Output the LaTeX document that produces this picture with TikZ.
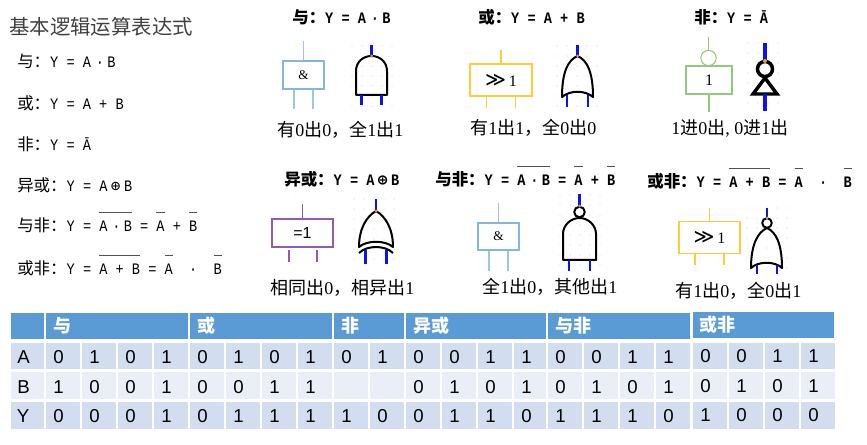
\documentclass[tikz,border=0pt]{standalone}
\usepackage{fontspec}
\setmainfont{Liberation Serif}
\setsansfont{Liberation Sans}
\setmonofont[FakeStretch=0.85]{Liberation Mono}
\newfontfamily\cjk{Noto Sans CJK SC}
\newfontfamily\cjkbig[Scale=1.03]{Noto Sans CJK SC}
\newfontfamily\dvmono{DejaVu Sans Mono}
\newfontfamily\dvsans{DejaVu Sans}
\newcommand{\zh}[1]{{\cjkbig #1}}
\newcommand{\zc}[1]{{\cjk #1}}
\newcommand{\xorsign}{\makebox[12.4pt]{\dvmono ⊕}}
\newcommand{\orsign}{{\dvsans\fontsize{15}{16}\selectfont ≫}\,}
\newcommand{\middot}{\kern-2.4pt·\kern2.4pt}
\newsavebox\barbox
\newcommand{\topbar}[1]{\sbox\barbox{#1}\rlap{\textcolor{barcol}{\rule[14.3pt]{\wd\barbox}{.8pt}}}\usebox\barbox}
\newcommand{\dotgrid}[4]{\foreach \i in {0,...,#3}\foreach \j in {0,...,#4}\fill[griddot] (#1+\i*10,#2+\j*10) circle (.45pt);}
\definecolor{barcol}{HTML}{505050}
\definecolor{griddot}{HTML}{D4D4D4}
\definecolor{headblue}{HTML}{5B9BD5}
\definecolor{oddrow}{HTML}{D2DEEF}
\definecolor{evenrow}{HTML}{EAEFF7}
\definecolor{andblue}{HTML}{86B6E0}
\definecolor{oryellow}{HTML}{FFCB3D}
\definecolor{notgreen}{HTML}{95C878}
\definecolor{xorpurple}{HTML}{8E5CB5}
\definecolor{pinblue}{HTML}{0A14F0}
\definecolor{outorange}{HTML}{F0A000}
\tikzset{
formula/.style={anchor=base west,inner sep=0pt,font=\ttfamily\fontsize{12}{14}\selectfont},
heading/.style={anchor=base west,inner sep=0pt,font=\ttfamily\bfseries\fontsize{12}{14}\selectfont},
caption/.style={anchor=base west,inner sep=0pt,font=\fontsize{13.5}{16}\selectfont},
gbox/.style={draw,line width=.9pt,inner sep=0pt,font=\fontsize{12}{14}\selectfont},
boxpin/.style={line width=1pt},
gate/.style={line width=1.5pt,line join=round},
pin/.style={pinblue,line width=1.75pt},
thickgate/.style={line width=2.6pt,line join=miter},
thickpin/.style={pinblue,line width=2.6pt},
headcell/.style={fill=headblue,draw=white,line width=.8pt},
headtext/.style={anchor=west,inner sep=0pt,text=white,font=\cjk\bfseries\fontsize{13.5}{16}\selectfont},
cell/.style={anchor=base west,inner sep=0pt,font=\sffamily\fontsize{14}{16}\selectfont},
rowname/.style={anchor=base,inner sep=0pt,font=\sffamily\fontsize{14}{16}\selectfont},
}
\begin{document}
\begin{tikzpicture}[x=.75pt,y=-.75pt]
\useasboundingbox (0,0) rectangle (867,445);
% left list
\node[anchor=west,inner sep=0pt,text=black!75,font=\cjk\fontsize{15.3}{18}\selectfont] (maintitle) at (9,27) {基本逻辑运算表达式};
\node[formula] (lineand) at (17,68) {\zh{与：}Y = A \middot B};
\node[formula] (lineor) at (17,110) {\zh{或：}Y = A + B};
\node[formula] (linenot) at (17,151) {\zh{非：}Y = Ā};
\node[formula] (linexor) at (17,192) {\zh{异或：}Y = A\xorsign B};
\node[formula] (linenand) at (17,232) {\zh{与非：}Y = \topbar{A \middot B} = \topbar{A} + \topbar{B}};
\node[formula] (linenor) at (17,275) {\zh{或非：}Y = \topbar{A + B} = \topbar{A}~~·~~\topbar{B}};
% and
\node[heading] (headand) at (292,24) {\zh{与：}Y = A \middot B};
\node[gbox,draw=andblue,font=\fontsize{10}{12}\selectfont,minimum width=30.75pt,minimum height=21pt] (andbox) at (303.5,75) {\&};
\draw[andblue!80,boxpin] (andbox.north) -- ++(0,-19);
\draw[andblue!80,boxpin] ([xshift=-7.2pt]andbox.south) -- ++(0,19);
\draw[andblue!80,boxpin] ([xshift=7.2pt]andbox.south) -- ++(0,19);
\dotgrid{352}{46}{4}{6}
\draw[gate] (356,95) -- (356,71) .. controls (356,62) and (363,56) .. (371.5,56) .. controls (380,56) and (387,62) .. (387,71) -- (387,95) -- cycle;
\coordinate (andout) at (371.5,56);
\coordinate (andina) at (361.5,95);
\coordinate (andinb) at (381.5,95);
\draw[pin] (andout) -- ++(0,-11);
\draw[pin] (andina) -- ++(0,10);
\draw[pin] (andinb) -- ++(0,10);
\fill[outorange] (andout) circle (1.5);
\node[caption] (capand) at (277,137) {\zc{有}0\zc{出}0\zc{，}\zc{全}1\zc{出}1};
% or
\node[heading] (heador) at (478,24) {\zh{或：}Y = A + B};
\node[gbox,draw=oryellow,minimum width=46.5pt,minimum height=24pt] (orbox) at (501,80) {\orsign 1};
\draw[oryellow,boxpin] (orbox.north) -- ++(0,-13);
\draw[oryellow,boxpin] ([xshift=-11pt]orbox.south) -- ++(0,11);
\draw[oryellow,boxpin] ([xshift=11pt]orbox.south) -- ++(0,11);
\dotgrid{557}{46}{4}{6}
\draw[gate] (577.5,56) .. controls (568,60) and (562,72) .. (562,97) .. controls (570,90) and (585,90) .. (593,97) .. controls (593,72) and (587,60) .. (577.5,56) -- cycle;
\coordinate (orout) at (577.5,56);
\coordinate (orina) at (567,95);
\coordinate (orinb) at (588,95);
\draw[pin] (orout) -- ++(0,-11);
\draw[pin] (orina) -- ++(0,12);
\draw[pin] (orinb) -- ++(0,12);
\fill[outorange] (orout) circle (1.5);
\node[caption] (capor) at (470,135) {\zc{有}1\zc{出}1\zc{，}\zc{全}0\zc{出}0};
% not
\node[heading] (headnot) at (694,24) {\zh{非：}Y = Ā};
\node[gbox,draw=notgreen,minimum width=34.5pt,minimum height=21pt] (notbox) at (709,80) {1};
\node[circle,draw=notgreen,line width=.8pt,minimum size=11.5pt,inner sep=0pt] (notring) at (708.5,58) {};
\draw[notgreen,boxpin] (notring.north) -- ++(0,-13);
\draw[notgreen,boxpin] (notbox.south) -- ++(0,17);
\dotgrid{748}{43}{3}{6}
\draw[thickgate] (765,69) circle (7.5);
\draw[thickgate] (765,78) -- (777,94) -- (753,94) -- cycle;
\coordinate (notout) at (765,61);
\coordinate (notin) at (765,94);
\draw[thickpin] (notout) -- ++(0,-18);
\draw[thickpin] (notin) -- ++(0,17);
\fill[outorange] (notout) circle (2);
\node[caption] (capnot) at (671,135) {1\zc{进}0\zc{出}, 0\zc{进}1\zc{出}};
% xor
\node[heading] (headxor) at (284,186) {\zh{异或：}Y = A\xorsign B};
\node[gbox,draw=xorpurple,minimum width=45.75pt,minimum height=21pt] (xorbox) at (302.5,233) {\sffamily =1};
\coordinate (xorina) at (289,250);
\coordinate (xorinb) at (317,250);
\draw[xorpurple,boxpin] (xorbox.north) -- ++(0,-14);
\draw[xorpurple,boxpin] (xorina) -- ++(0,12);
\draw[xorpurple,boxpin] (xorinb) -- ++(0,12);
\dotgrid{354}{199}{4}{6}
\draw[gate] (376,211) .. controls (367,216) and (359,228) .. (359,247) .. controls (367,240) and (385,240) .. (393,247) .. controls (393,228) and (385,216) .. (376,211) -- cycle;
\draw[gate] (359,253) .. controls (367,245) and (385,245) .. (393,253);
\coordinate (xorout) at (376,211);
\coordinate (xorgina) at (365.5,250);
\coordinate (xorginb) at (386.5,250);
\draw[pin] (xorout) -- ++(0,-12);
\draw[pin] (xorgina) -- ++(0,14);
\draw[pin] (xorginb) -- ++(0,14);
\fill[outorange] (xorout) circle (1.5);
\node[caption] (capxor) at (270,294) {\zc{相同出}0\zc{，}\zc{相异出}1};
% nand
\node[heading] (headnand) at (435,186) {\zh{与非：}Y = \topbar{A \middot B} = \topbar{A} + \topbar{B}};
\node[gbox,draw=andblue,font=\fontsize{10}{12}\selectfont,minimum width=30.75pt,minimum height=20.25pt] (nandbox) at (498.5,236.5) {\&};
\draw[andblue!80,boxpin] (nandbox.north) -- ++(0,-19);
\draw[andblue!80,boxpin] ([xshift=-7.2pt]nandbox.south) -- ++(0,20);
\draw[andblue!80,boxpin] ([xshift=7.2pt]nandbox.south) -- ++(0,20);
\dotgrid{560}{195}{4}{7}
\draw[gate] (563,260) -- (563,234) .. controls (563,225) and (571,218) .. (579.5,218) .. controls (588,218) and (596,225) .. (596,234) -- (596,260) -- cycle;
\draw[gate,fill=white] (579.5,212) circle (5.3);
\coordinate (nandout) at (579.5,206);
\coordinate (nandina) at (569,260);
\coordinate (nandinb) at (590,260);
\draw[pin] (nandout) -- ++(0,-12);
\draw[pin] (nandina) -- ++(0,11);
\draw[pin] (nandinb) -- ++(0,11);
\fill[outorange] (nandout) circle (1.5);
\node[caption] (capnand) at (482,293) {\zc{全}1\zc{出}0\zc{，}\zc{其他出}1};
% nor
\node[heading] (headnor) at (647,188) {\zh{或非：}Y = \topbar{A + B} = \topbar{A}~~·~~\topbar{B}};
\node[gbox,draw=oryellow,minimum width=45.75pt,minimum height=24pt] (norbox) at (709.5,237.5) {\orsign 1};
\draw[oryellow,boxpin] (norbox.north) -- ++(0,-13);
\draw[oryellow,boxpin] ([xshift=-10.8pt]norbox.south) -- ++(0,11);
\draw[oryellow,boxpin] ([xshift=10.8pt]norbox.south) -- ++(0,11);
\dotgrid{747}{208}{4}{6}
\draw[gate] (767,228) .. controls (758,232) and (751,244) .. (751,268) .. controls (758,261) and (775,261) .. (782,268) .. controls (782,244) and (776,232) .. (767,228) -- cycle;
\draw[gate,fill=white] (767,223) circle (4.8);
\coordinate (norout) at (767,218);
\coordinate (norina) at (757,265);
\coordinate (norinb) at (777,265);
\draw[pin] (norout) -- ++(0,-10);
\draw[pin] (norina) -- ++(0,9);
\draw[pin] (norinb) -- ++(0,9);
\fill[outorange] (norout) circle (1.5);
\node[caption] (capnor) at (675,297) {\zc{有}1\zc{出}0\zc{，}\zc{全}0\zc{出}1};
% table
\filldraw[headcell] (10,312) rectangle (45,340);
\filldraw[headcell] (45,312) rectangle (189,340);
\filldraw[headcell] (189,312) rectangle (333,340);
\filldraw[headcell] (333,312) rectangle (405,340);
\filldraw[headcell] (405,312) rectangle (547,340);
\filldraw[headcell] (547,312) rectangle (691,340);
\filldraw[headcell] (692,311) rectangle (835,339);
\node[headtext] (tand) at (53,326) {与};
\node[headtext] (tor) at (197,326) {或};
\node[headtext] (tnot) at (341,326) {非};
\node[headtext] (txor) at (413,326) {异或};
\node[headtext] (tnand) at (555,326) {与非};
\node[headtext] (tnor) at (699,325) {或非};
\filldraw[fill=oddrow,draw=white,line width=.8pt] (10,342) rectangle (45,370);
\filldraw[fill=evenrow,draw=white,line width=.8pt] (10,371) rectangle (45,400);
\filldraw[fill=oddrow,draw=white,line width=.8pt] (10,401) rectangle (45,430);
\node[rowname] (rowa) at (23.5,363) {A};
\node[rowname] (rowb) at (23.5,393) {B};
\node[rowname] (rowy) at (23,422) {Y};
\foreach \x/\a/\b/\y/\d [count=\c] in {45/0/1/0/0,81/1/0/0/0,117/0/0/0/0,153/1/1/1/0,
189/0/0/0/0,225/1/0/1/0,261/0/1/1/0,297/1/1/1/0,333/0//1/0,369/1//0/0,
405/0/0/0/0,441/0/1/1/0,477/1/0/1/0,513/1/1/0/0,547/0/0/1/0,583/0/1/1/0,619/1/0/1/0,655/1/1/0/0,
692/0/0/1/1,728/0/1/0/1,764/1/0/0/1,800/1/1/0/1}{
\filldraw[fill=oddrow,draw=white,line width=.8pt] (\x,342) rectangle (\x+36,370);
\filldraw[fill=evenrow,draw=white,line width=.8pt] (\x,371) rectangle (\x+36,400);
\filldraw[fill=oddrow,draw=white,line width=.8pt] (\x,401) rectangle (\x+36,430);
\node[cell] (a\c) at (\x+8,363-\d) {\a};
\node[cell] (b\c) at (\x+8,393-\d) {\b};
\node[cell] (y\c) at (\x+8,422-\d) {\y};
}
\end{tikzpicture}
\end{document}
